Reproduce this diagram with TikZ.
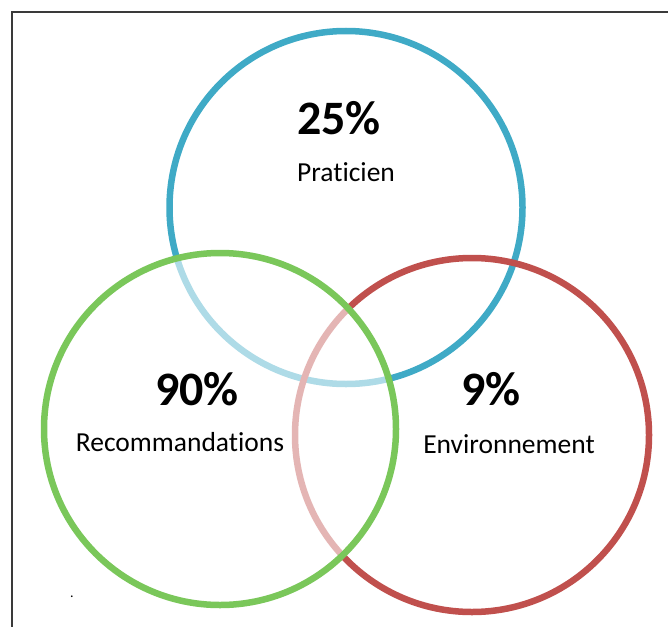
\documentclass[tikz,border=0pt]{standalone}
\usepackage{fontspec}
\setmainfont[Ligatures={NoCommon,NoRare}]{Carlito}
\definecolor{pracblue}{HTML}{3FAAC6}
\definecolor{envred}{HTML}{C0504D}
\definecolor{recgreen}{HTML}{7AC75A}
\definecolor{framegray}{HTML}{3A3A3A}
\begin{document}
\begin{tikzpicture}[x=1pt,y=-1pt,
  ring/.style={line width=6.5pt},
  pct/.style={font=\fontsize{48}{52}\selectfont\bfseries, inner sep=0pt},
  lbl/.style={font=\fontsize{27.5}{32}\selectfont, inner sep=0pt}]
\useasboundingbox (0,0) rectangle (668,626);
% frame (only the top and left edges fall inside the page)
\draw[framegray, line width=1.8pt] (12,640) -- (12,12) -- (680,12);
% the three sets
\draw[ring, pracblue] (346,207.5) circle[radius=176.5];
\draw[ring, envred] (472,435) circle[radius=177];
% the green set veils whatever lies beneath it
\fill[white, opacity=0.58] (220,429) circle[radius=176];
\draw[ring, recgreen] (220,429) circle[radius=176];
% figures and labels
\node[pct] (p1) at (339,118) {25\%};
\node[lbl] (l1) at (346,172) {Praticien};
\node[pct] (p2) at (197,389) {90\%};
\node[lbl] (l2) at (180,442) {Recommandations};
\node[pct] (p3) at (491,389) {9\%};
\node[lbl] (l3) at (509,444) {Environnement};
\node[inner sep=0pt, font=\fontsize{14}{16}\selectfont] (dot) at (72,597) {.};
\end{tikzpicture}
\end{document}
